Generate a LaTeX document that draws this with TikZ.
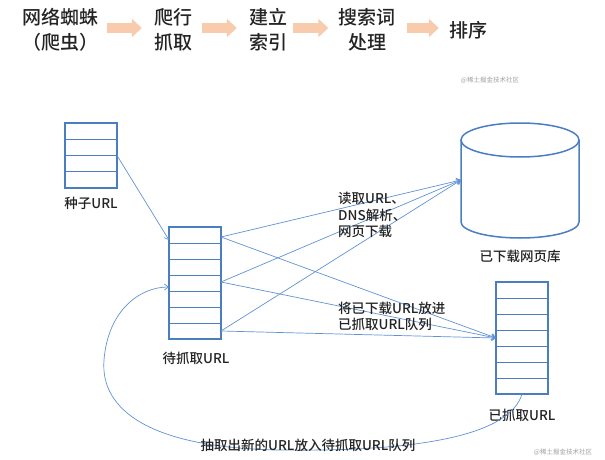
\documentclass[tikz,border=0pt]{standalone}
\usepackage{fontspec}
\setmainfont{Noto Sans CJK SC}
\newfontfamily\medfont{Noto Sans CJK SC Medium}
\usetikzlibrary{arrows.meta,calc}
\definecolor{boxblue}{RGB}{74,126,193}
\definecolor{lineblue}{RGB}{96,146,214}
\definecolor{peach}{RGB}{248,203,173}
\definecolor{txt}{RGB}{35,35,35}
\definecolor{wmgray}{RGB}{160,160,160}
\begin{document}
\begin{tikzpicture}[x=1pt,y=-1pt,
  toptext/.style={font=\medfont\fontsize{19}{25}\selectfont, align=center, inner sep=0pt, text=txt},
  lbl/.style={font=\medfont\fontsize{13.5}{16.5}\selectfont, inner sep=0pt, text=txt},
  queue/.style={draw=boxblue, line width=1.5pt, minimum width=52pt, inner sep=0pt, outer sep=0pt},
  rowline/.style={draw=boxblue, line width=0.8pt},
  conn/.style={draw=lineblue, line width=0.7pt, -{Straight Barb[length=4pt,width=6pt]}},
  bigarrow/.style={draw=peach, line width=10pt, -{Triangle[length=10pt,width=18pt]}},
  wm/.style={font=\fontsize{6.5}{7}\selectfont, text=wmgray, inner sep=0pt}]
\useasboundingbox (0,0) rectangle (605,460);

% top row
\node[toptext] (t1) at (60,30) {网络蜘蛛\\（爬虫）};
\node[toptext] (t2) at (173,30) {爬行\\抓取};
\node[toptext] (t3) at (268,30) {建立\\索引};
\node[toptext] (t4) at (367,30) {搜索词\\处理};
\node[toptext] (t5) at (468,30) {排序};
\draw[bigarrow, shorten <=9pt, shorten >=12pt] ([yshift=2pt]t1.east) -- ([yshift=2pt]t2.west);
\draw[bigarrow, shorten <=10pt, shorten >=12pt] ([yshift=2pt]t2.east) -- ([yshift=2pt]t3.west);
\draw[bigarrow, shorten <=6pt, shorten >=10pt] ([yshift=2pt]t3.east) -- ([yshift=2pt]t4.west);
\draw[bigarrow, shorten <=11pt, shorten >=10pt] ([yshift=2pt]t4.east) -- ([yshift=2pt]t5.west);
\node[wm] (wm1) at (490,80) {@稀土掘金技术社区};
\node[wm] (wm2) at (563,452) {@稀土掘金技术社区};

% queues
\node[queue, minimum height=65pt] (seed) at (91,155.5) {};
\foreach \i in {1,2,3}
  \draw[rowline] ($(seed.north west)!\i/4!(seed.south west)$) -- ($(seed.north east)!\i/4!(seed.south east)$);
\node[lbl] (seedlbl) at (91,203) {种子URL};

\node[queue, minimum height=112pt] (pending) at (195,283) {};
\foreach \i in {1,...,6}
  \draw[rowline] ($(pending.north west)!\i/7!(pending.south west)$) -- ($(pending.north east)!\i/7!(pending.south east)$);
\node[lbl] (pendlbl) at (196,358) {待抓取URL};

\node[queue, minimum height=112pt] (fetched) at (522,338) {};
\foreach \i in {1,...,6}
  \draw[rowline] ($(fetched.north west)!\i/7!(fetched.south west)$) -- ($(fetched.north east)!\i/7!(fetched.south east)$);
\node[lbl] (fetlbl) at (522,415) {已抓取URL};

% database cylinder
\node[minimum width=118pt, minimum height=116pt, inner sep=0pt, outer sep=0pt] (db) at (520,180) {};
\draw[draw=boxblue, line width=1.5pt] (461,140) -- (461,222) arc[start angle=180, end angle=360, x radius=59pt, y radius=16pt] -- (579,140);
\draw[draw=boxblue, line width=1.5pt] (520,140) ellipse [x radius=59pt, y radius=17pt];
\node[lbl] (dblbl) at (520,256) {已下载网页库};

% connectors
\coordinate (pin1) at ($(pending.north west)+(0,13)$);
\coordinate (pin2) at ($(pending.north west)+(0,60)$);
\coordinate (po1) at ($(pending.north east)+(0,10)$);
\coordinate (po2) at ($(pending.north east)+(0,55)$);
\coordinate (po3) at ($(pending.north east)+(0,104)$);
\draw[conn] (seed.east) -- (pin1);
\foreach \p in {po1,po2,po3} {
  \draw[conn] (\p) -- (db.west);
  \draw[conn] (\p) -- (fetched.west);
}
\draw[conn] (fetched.south) .. controls (510,435) and (420,452) .. (280,450)
  .. controls (150,448) and (100,410) .. (104,360)
  .. controls (108,310) and (140,287) .. (pin2);

% labels
\node[lbl, align=left, anchor=west] (l1) at (338,215) {读取URL、\\DNS解析、\\网页下载};
\node[lbl, align=left, anchor=west, font=\medfont\fontsize{13.5}{15.5}\selectfont] (l2) at (338,316.5) {将已下载URL放进\\已抓取URL队列};
\node[lbl] (l3) at (308,445) {抽取出新的URL放入待抓取URL队列};
\end{tikzpicture}
\end{document}
